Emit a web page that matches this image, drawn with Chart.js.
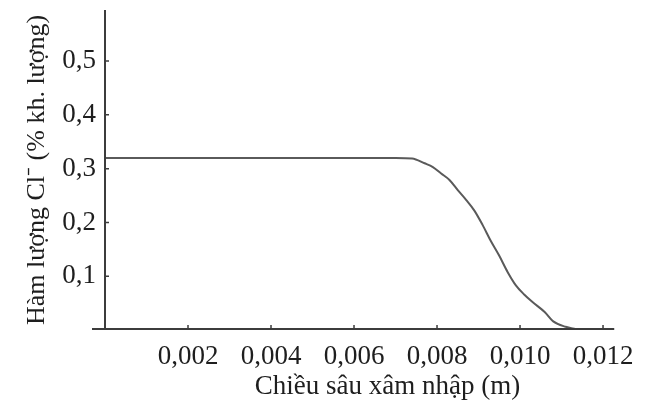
<!DOCTYPE html>
<html>
<head>
<meta charset="utf-8">
<script src="https://cdn.jsdelivr.net/npm/chart.js@4.4.1/dist/chart.umd.min.js"></script>
<style>
    html, body { margin: 0; background: #fff; }
    #wrap { width: 645px; height: 410px; }
</style>
</head>
<body>
<div id="wrap"><canvas id="chart"></canvas></div>
<script>
// Penetration depth (m) and Cl- content (% by mass)
const depth = [0, 0.0070, 0.0074, 0.0077, 0.0079, 0.0081, 0.0083, 0.0085, 0.0087, 0.0089,
    0.0091, 0.0093, 0.0095, 0.0097, 0.0099, 0.0101, 0.0103, 0.0106, 0.0108, 0.0111, 0.0114, 0.0116];
const chloride = [0.32, 0.32, 0.319, 0.31, 0.303, 0.291, 0.279, 0.26, 0.242, 0.222,
    0.195, 0.165, 0.138, 0.108, 0.083, 0.066, 0.052, 0.033, 0.016, 0.006, 0.001, 0];

const xTicks = [0.002, 0.004, 0.006, 0.008, 0.010, 0.012];
const yTicks = [0.1, 0.2, 0.3, 0.4, 0.5];

const xTitle = "Chiều sâu xâm nhập (m)";
const yTitle = "Hàm lượng Cl⁻ (% kh. lượng)";

const serif = '"Liberation Serif", "Times New Roman", serif';
const inkColor = "#1e1e1e";
const axisColor = "#3c3c3c";

// Axes drawn by hand: ticks point inward, x axis runs a bit past the y axis
const axisLines = {
    id: "axisLines",
    afterDatasetsDraw(chart) {
        const { ctx, chartArea: a, scales: { x, y } } = chart;
        ctx.save();
        ctx.strokeStyle = axisColor;
        ctx.lineWidth = 2;
        ctx.beginPath();
        ctx.moveTo(a.left, a.top);
        ctx.lineTo(a.left, a.bottom);
        ctx.moveTo(a.left - 13, a.bottom - 1);
        ctx.lineTo(a.right, a.bottom - 1);
        ctx.stroke();

        ctx.lineWidth = 1.5;
        ctx.beginPath();
        y.ticks.forEach(t => {
            const py = y.getPixelForValue(t.value);
            ctx.moveTo(a.left, py);
            ctx.lineTo(a.left + 4, py);
        });
        x.ticks.forEach(t => {
            const px = x.getPixelForValue(t.value);
            ctx.moveTo(px, a.bottom - 1);
            ctx.lineTo(px, a.bottom - 5);
        });
        ctx.stroke();

        // x title, centred over the labelled ticks
        const mid = (xTicks[0] + xTicks[xTicks.length - 1]) / 2;
        ctx.fillStyle = inkColor;
        ctx.font = "27px " + serif;
        ctx.textAlign = "center";
        ctx.textBaseline = "alphabetic";
        ctx.fillText(xTitle, x.getPixelForValue(mid) - 8, a.bottom + 64);
        ctx.restore();
    }
};

new Chart(document.getElementById("chart"), {
    type: "line",
    data: {
        datasets: [{
            data: depth.map((d, i) => ({ x: d, y: chloride[i] })),
            borderColor: "#5a5a5a",
            borderWidth: 2,
            pointRadius: 0,
            fill: false,
            cubicInterpolationMode: "monotone"
        }]
    },
    options: {
        animation: false,
        responsive: true,
        maintainAspectRatio: false,
        layout: { padding: { left: 0, right: 27, top: 10, bottom: 0 } },
        plugins: {
            legend: { display: false },
            tooltip: { enabled: false }
        },
        scales: {
            x: {
                type: "linear",
                min: 0,
                max: 0.01227,
                grid: { display: false, drawTicks: false },
                border: { display: false },
                afterBuildTicks: s => { s.ticks = xTicks.map(v => ({ value: v })); },
                afterFit: s => { s.height = 80; },
                ticks: {
                    padding: 11,
                    color: inkColor,
                    font: { family: serif, size: 27 },
                    maxRotation: 0,
                    callback: v => v.toFixed(3).replace(".", ",")
                }
            },
            y: {
                min: 0,
                max: 0.595,
                grid: { display: false, drawTicks: false },
                border: { display: false },
                afterBuildTicks: s => { s.ticks = yTicks.map(v => ({ value: v })); },
                afterFit: s => {
                    s.width = 105;
                    s.paddingTop = 0;
                    s.paddingBottom = 0;
                },
                ticks: {
                    padding: 9,
                    color: inkColor,
                    font: { family: serif, size: 27 },
                    callback: v => v.toFixed(1).replace(".", ",")
                },
                title: {
                    display: true,
                    text: yTitle,
                    color: inkColor,
                    font: { family: serif, size: 26 },
                    padding: { top: 22, bottom: 0 }
                }
            }
        }
    },
    plugins: [axisLines]
});
</script>
</body>
</html>
